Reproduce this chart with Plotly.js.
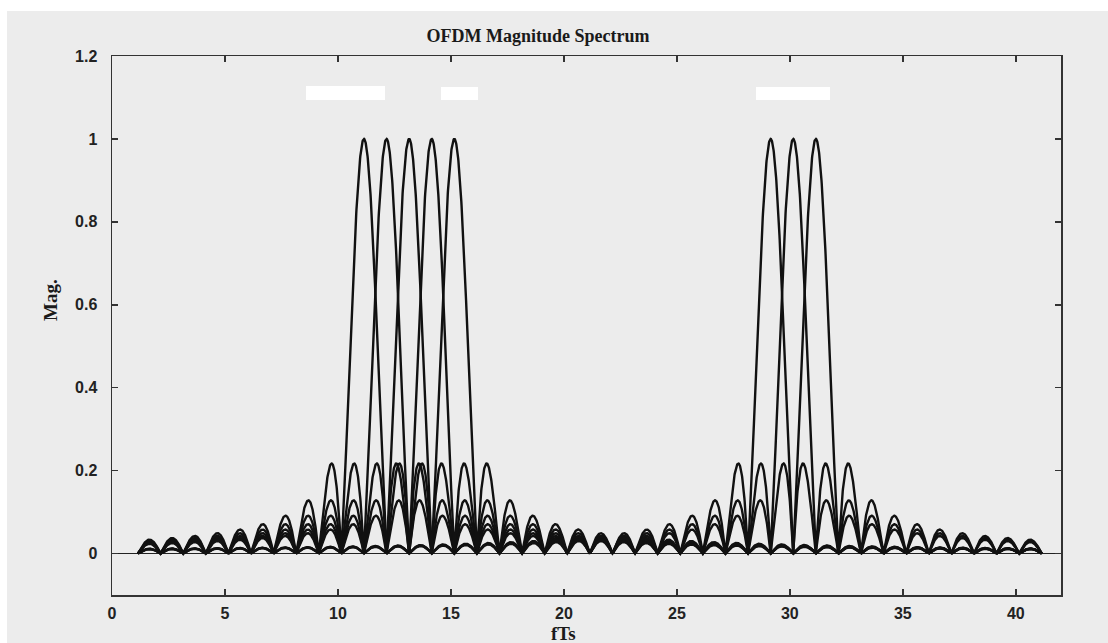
<!DOCTYPE html>
<html>
<head>
<meta charset="utf-8">
<script src="https://cdn.plot.ly/plotly-3.0.1.min.js"></script>
<style>
  html, body { margin: 0; padding: 0; background: #ffffff; }
  #chart { width: 1108px; height: 643px; }
</style>
</head>
<body>
<div id="chart"></div>
<script>
// ---- data ----
// sub-carrier centre frequencies (fTs) of the two groups of active carriers,
// as they lie against the printed axis of the scan
const carrierCentres = [11.15, 12.15, 13.15, 14.15, 15.15, 29.15, 30.15, 31.15];
// frequency span over which every carrier spectrum is drawn
const freqStart = 1.15;
const freqEnd = 41.15;
const freqStep = 0.01;
// axis ticks
const xTicks = [0, 5, 10, 15, 20, 25, 30, 35, 40];
const yTicks = [0, 0.2, 0.4, 0.6, 0.8, 1, 1.2];
const yTickLabels = ['0', '0.2', '0.4', '0.6', '0.8', '1', '1.2'];

// magnitude spectrum of one rectangular-pulse carrier: |sinc(f - fc)|
function carrierMagnitude(f, fc) {
  const d = f - fc;
  if (Math.abs(d) < 1e-9) return 1;
  return Math.abs(Math.sin(Math.PI * d) / (Math.PI * d));
}

const freqs = [];
for (let i = 0; freqStart + i * freqStep <= freqEnd + 1e-9; i++) {
  freqs.push(+(freqStart + i * freqStep).toFixed(4));
}

const traces = carrierCentres.map(fc => ({
  type: 'scatter',
  mode: 'lines',
  x: freqs,
  y: freqs.map(f => carrierMagnitude(f, fc)),
  line: { color: '#111111', width: 2.4 },
  hoverinfo: 'skip',
  showlegend: false
}));

const L = 112, R = 1061, T = 56, B = 595, W = 1108, H = 643;
const pw = R - L, ph = B - T;
const px2x = p => (p - L) / pw;
const px2y = p => (B - p) / ph;

const tickFont = { family: 'Liberation Sans, Arial, sans-serif', size: 16, color: '#222222', weight: 'bold' };
const serifFont = { family: 'Liberation Serif, Times New Roman, serif', size: 19, color: '#1a1a1a', weight: 'bold' };

const layout = {
  width: W, height: H,
  margin: { l: L, r: W - R, t: T, b: H - B, pad: 0 },
  paper_bgcolor: '#ffffff',
  plot_bgcolor: 'rgba(0,0,0,0)',
  showlegend: false,
  title: {
    text: 'OFDM Magnitude Spectrum',
    font: { family: 'Liberation Serif, Times New Roman, serif', size: 18, color: '#1a1a1a', weight: 'bold' },
    xref: 'container', x: 538 / W, xanchor: 'center',
    yref: 'container', y: 1 - 36 / H, yanchor: 'middle'
  },
  xaxis: {
    range: [0, 42],
    tickvals: xTicks,
    ticktext: xTicks.map(String),
    ticks: 'inside', ticklen: 6, tickwidth: 1.5, tickcolor: '#333',
    showline: true, linecolor: '#333', linewidth: 1.5, mirror: 'ticks',
    showgrid: false, zeroline: false,
    tickfont: tickFont,
    ticklabelstandoff: 3
  },
  yaxis: {
    range: [-0.1, 1.2],
    tickvals: yTicks,
    ticktext: yTickLabels,
    ticks: 'inside', ticklen: 6, tickwidth: 1.5, tickcolor: '#333',
    showline: true, linecolor: '#333', linewidth: 1.5, mirror: 'ticks',
    showgrid: false, zeroline: true, zerolinecolor: '#222', zerolinewidth: 1.5,
    tickfont: tickFont,
    ticklabelstandoff: 10
  },
  shapes: [
    // scanned page background
    { type: 'rect', xref: 'paper', yref: 'paper', layer: 'below',
      x0: px2x(7), x1: px2x(W), y0: px2y(H), y1: px2y(11),
      fillcolor: '#ececec', line: { width: 0 } },
    // white blotches on the scan
    { type: 'rect', xref: 'paper', yref: 'paper', layer: 'above',
      x0: px2x(306), x1: px2x(385), y0: px2y(100), y1: px2y(86),
      fillcolor: '#ffffff', line: { width: 0 } },
    { type: 'rect', xref: 'paper', yref: 'paper', layer: 'above',
      x0: px2x(441), x1: px2x(478), y0: px2y(100), y1: px2y(87),
      fillcolor: '#ffffff', line: { width: 0 } },
    { type: 'rect', xref: 'paper', yref: 'paper', layer: 'above',
      x0: px2x(756), x1: px2x(830), y0: px2y(100), y1: px2y(87),
      fillcolor: '#ffffff', line: { width: 0 } }
  ],
  annotations: [
    { text: 'fTs', xref: 'paper', yref: 'paper', x: px2x(563), y: px2y(633),
      xanchor: 'center', yanchor: 'middle', showarrow: false, font: serifFont },
    { text: 'Mag.', xref: 'paper', yref: 'paper', x: px2x(50), y: px2y(300),
      xanchor: 'center', yanchor: 'middle', showarrow: false, textangle: -90, font: serifFont }
  ]
};

Plotly.newPlot('chart', traces, layout, { displayModeBar: false, staticPlot: true });
</script>
</body>
</html>
